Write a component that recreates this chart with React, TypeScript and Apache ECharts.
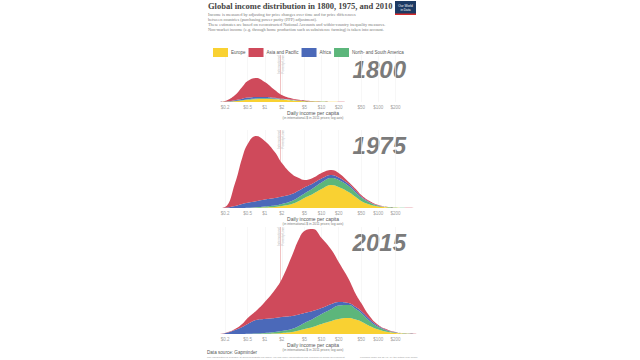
import React, { useEffect, useRef } from "react";
import * as echarts from "echarts";

// Daily income levels (international-$ per day, 2011 prices) at which the densities are read
const incomeLevels = [0.1, 0.15, 0.2, 0.3, 0.4, 0.5, 0.7, 1, 1.5, 2, 3, 4, 5, 7, 10, 15, 20, 30, 40, 50, 70, 100, 150, 200, 300, 500];

// Tick labels of the log axis
const tickValues = [0.2, 0.5, 1, 2, 5, 10, 20, 50, 100, 200];
const tickLabels = ["$0.2", "$0.5", "$1", "$2", "$5", "$10", "$20", "$50", "$100", "$200"];
const povertyLine = 1.9;

const years = ["1800", "1975", "2015"];
// stacking order bottom -> top
const regionNames = ["Europe", "North- and South America", "Africa", "Asia and Pacific"];
const legendOrder = ["Europe", "Asia and Pacific", "Africa", "North- and South America"];

// Population density (relative units) per region and year
const europe1800 = [0, 0, 0.2, 0.8, 1.5, 2.2, 2.8, 3, 2.8, 2.3, 1.6, 1.1, 0.8, 0.5, 0.3, 0.2, 0.1, 0, 0, 0, 0, 0, 0, 0, 0, 0];
const americas1800 = [0, 0, 0, 0.2, 0.4, 0.6, 0.7, 0.7, 0.6, 0.5, 0.4, 0.3, 0.2, 0.2, 0.1, 0, 0, 0, 0, 0, 0, 0, 0, 0, 0, 0];
const africa1800 = [0, 0, 0.2, 0.8, 1.3, 1.6, 1.6, 1.3, 0.8, 0.5, 0.3, 0.2, 0.1, 0, 0, 0, 0, 0, 0, 0, 0, 0, 0, 0, 0, 0];
const asia1800 = [0, 0, 0.6, 5.2, 11.8, 16.6, 18.9, 15, 7.8, 3.7, 1.2, 0.6, 0.4, 0.3, 0.2, 0.1, 0.05, 0, 0, 0, 0, 0, 0, 0, 0, 0];

const europe1975 = [0, 0, 0, 0, 0, 0, 0.2, 0.5, 1, 2, 4, 7, 10, 14, 19, 23, 21, 16, 11, 7, 3.5, 1.5, 0.6, 0.3, 0.1, 0];
const americas1975 = [0, 0, 0, 0, 0, 0.2, 0.5, 1, 1.5, 2, 3, 4, 4.5, 5.5, 6.5, 7, 7, 6, 4.5, 3.5, 2, 0.8, 0.3, 0.1, 0, 0];
const africa1975 = [0, 0, 0.3, 2, 4, 5, 6, 7, 7.5, 7.5, 7, 6.5, 6, 5, 4, 3, 2.5, 2, 1.5, 1, 0.6, 0.3, 0.1, 0, 0, 0];
const asia1975 = [0, 0, 0.7, 23, 46, 58.8, 65.3, 58.5, 46, 33.5, 20, 12.5, 7.5, 5.5, 5.5, 5, 4.5, 2, 2, 1.5, 0.9, 0.4, 0, 0.1, 0.1, 0];

const europe2015 = [0, 0, 0, 0, 0, 0, 0, 0.2, 0.5, 1, 2, 3.5, 5, 7, 10, 13, 15, 16, 14.5, 12.5, 8, 4.5, 2, 1, 0.3, 0];
const americas2015 = [0, 0, 0, 0, 0, 0.2, 0.5, 0.8, 1.5, 2, 3, 4.5, 6, 8, 10, 12, 13.5, 13, 10.5, 8.5, 5, 2.5, 1, 0.4, 0.2, 0];
const africa2015 = [0, 0, 0.8, 4, 7, 9.8, 13.5, 14, 14, 14, 13, 11.5, 10, 8, 6, 5, 3.5, 2, 2, 2, 2, 1, 0.5, 0.3, 0.1, 0];
const asia2015 = [0, 0, 0.2, 1, 3, 6, 9, 17, 28, 38, 60, 75.5, 82, 82, 70, 54, 40, 24, 13, 8, 3, 1, 0.5, 0.3, 0.1, 0];

const seriesByYear = [
  [europe1800, americas1800, africa1800, asia1800],
  [europe1975, americas1975, africa1975, asia1975],
  [europe2015, americas2015, africa2015, asia2015],
];

const regionColors: Record<string, string> = {
  Europe: "#f9d132",
  "North- and South America": "#5cb67b",
  Africa: "#4b69b9",
  "Asia and Pacific": "#cf4a5b",
};

// layout (pixels)
const panelLayout = [
  { top: 55, height: 47, yearY: 70 },
  { top: 130, height: 78, yearY: 146 },
  { top: 227, height: 107, yearY: 243 },
];
const plotLeft = 208;
const plotWidth = 210;
const SANS = "'Liberation Sans', Arial, sans-serif";
const SERIF = "'Liberation Serif', 'Times New Roman', serif";

const lg = (v: number) => Math.log10(v);

export default function App() {
  const ref = useRef<HTMLDivElement>(null);

  useEffect(() => {
    if (!ref.current) return;
    const chart = echarts.init(ref.current, undefined, { renderer: "svg" });

    const grids: any[] = [];
    const xAxes: any[] = [];
    const yAxes: any[] = [];
    const series: any[] = [];
    const graphics: any[] = [];

    panelLayout.forEach((p, pi) => {
      grids.push({ left: plotLeft, width: plotWidth, top: p.top, height: p.height });
      xAxes.push({
        type: "value",
        gridIndex: pi,
        min: -1,
        max: lg(500),
        axisLine: { show: false },
        axisTick: { show: false },
        splitLine: { show: false },
        axisLabel: {
          customValues: tickValues.map(lg),
          formatter: (v: number) => {
            const i = tickValues.findIndex((t) => Math.abs(lg(t) - v) < 1e-6);
            return i >= 0 ? tickLabels[i] : "";
          },
          fontSize: 4.5,
          color: "#a0a0a0",
          fontFamily: SANS,
          margin: 3,
        },
      });
      yAxes.push({ type: "value", gridIndex: pi, min: 0, max: p.height, show: false });

      // grid lines + poverty line
      series.push({
        type: "line",
        xAxisIndex: pi,
        yAxisIndex: pi,
        data: [],
        silent: true,
        markLine: {
          z: 1,
          silent: true,
          symbol: "none",
          animation: false,
          data: [
            ...tickValues.map((t) => ({
              xAxis: lg(t),
              lineStyle: { color: "#f1f1f1", width: 0.6, type: "solid" },
              label: { show: false },
            })),
            {
              xAxis: lg(povertyLine),
              lineStyle: { color: "#f1c3c3", width: 1, type: "solid" },
              label: {
                show: true,
                position: "insideEnd",
                formatter: "International\nPoverty Line",
                fontSize: 3.4,
                lineHeight: 4,
                color: "#b8b8b8",
                fontFamily: SANS,
                distance: 0,
              },
            },
          ],
        },
      });

      regionNames.forEach((name, ri) => {
        const values = seriesByYear[pi][ri];
        series.push({
          type: "line",
          name,
          xAxisIndex: pi,
          yAxisIndex: pi,
          stack: "year" + pi,
          smooth: 0.45,
          symbol: "none",
          lineStyle: { width: 0 },
          itemStyle: { color: regionColors[name] },
          areaStyle: { color: regionColors[name], opacity: 1 },
          // value first so that stacking happens on the y dimension
          dimensions: ["people", "income"],
          encode: { x: 1, y: 0 },
          data: incomeLevels.map((x, i) => [values[i], lg(x)]),
        });
      });

      graphics.push({
        type: "text",
        right: 640 - 406,
        top: p.yearY - 13,
        style: {
          text: years[pi],
          font: `italic bold 24px ${SANS}`,
          fill: "#7b7b7b",
        },
      });
      const base = p.top + p.height;
      graphics.push({
        type: "text",
        x: plotLeft + plotWidth / 2,
        y: base + 11,
        style: {
          text: "Daily income per capita",
          font: `5px ${SANS}`,
          fill: "#555",
          textAlign: "center",
          textVerticalAlign: "middle",
        },
      });
      graphics.push({
        type: "text",
        x: plotLeft + plotWidth / 2,
        y: base + 16,
        style: {
          text: "(in international-$ in 2011 prices; log axis)",
          font: `3.3px ${SANS}`,
          fill: "#777",
          textAlign: "center",
          textVerticalAlign: "middle",
        },
      });
    });

    // header
    graphics.push({
      type: "text",
      x: 208,
      y: 1.5,
      style: {
        text: "Global income distribution in 1800, 1975, and 2010",
        font: `bold 8.5px ${SERIF}`,
        fill: "#444",
        textVerticalAlign: "top",
      },
    });
    const subLines = [
      ["Income is measured by adjusting for price changes over time and for price differences", 14],
      ["between countries (purchasing power parity (PPP) adjustment).", 19],
      ["These estimates are based on reconstructed National Accounts and within-country inequality measures.", 24.7],
      ["Non-market income (e.g. through home production such as subsistence farming) is taken into account.", 29.7],
    ] as [string, number][];
    subLines.forEach(([t, y]) =>
      graphics.push({
        type: "text",
        x: 208,
        y,
        style: { text: t, font: `4.3px ${SERIF}`, fill: "#7a7a7a", textVerticalAlign: "middle" },
      })
    );
    // logo
    graphics.push({ type: "rect", shape: { x: 395, y: 1, width: 21, height: 14 }, style: { fill: "#1c3a63" } });
    graphics.push({ type: "rect", shape: { x: 395, y: 13.5, width: 21, height: 1.5 }, style: { fill: "#d42b2b" } });
    graphics.push({
      type: "text",
      x: 405.5,
      y: 7.5,
      style: {
        text: "Our World\nin Data",
        font: `3.2px ${SANS}`,
        lineHeight: 3.8,
        fill: "#fff",
        textAlign: "center",
        textVerticalAlign: "middle",
      },
    });
    // footer
    graphics.push({
      type: "text",
      x: 207,
      y: 352.5,
      style: { text: "Data source: Gapminder", font: `4.6px ${SANS}`, fill: "#555", textVerticalAlign: "middle" },
    });
    graphics.push({
      type: "text",
      x: 207,
      y: 357.8,
      style: {
        text: "The visualization is available at OurWorldInData.org where you find more visualizations and research on global development.",
        font: `2.5px ${SANS}`,
        fill: "#999",
        textVerticalAlign: "middle",
      },
    });
    graphics.push({
      type: "text",
      x: 418,
      y: 357.8,
      style: {
        text: "Licensed under CC-BY-SA by the author Max Roser.",
        font: `2.5px ${SANS}`,
        fill: "#999",
        textAlign: "right",
        textVerticalAlign: "middle",
      },
    });

    chart.setOption({
      animation: false,
      backgroundColor: "#ffffff",
      legend: {
        data: legendOrder,
        left: 208,
        top: 43,
        icon: "rect",
        itemWidth: 15,
        itemHeight: 9,
        itemGap: 3,
        selectedMode: false,
        textStyle: { fontSize: 4.5, color: "#555", fontFamily: SANS, padding: [0, 0, 0, -2] },
      },
      grid: grids,
      xAxis: xAxes,
      yAxis: yAxes,
      series,
      graphic: graphics,
    });

    return () => chart.dispose();
  }, []);

  return (
    <div
      ref={ref}
      style={{ position: "fixed", left: 0, top: 0, width: 640, height: 360, background: "#fff" }}
    />
  );
}
